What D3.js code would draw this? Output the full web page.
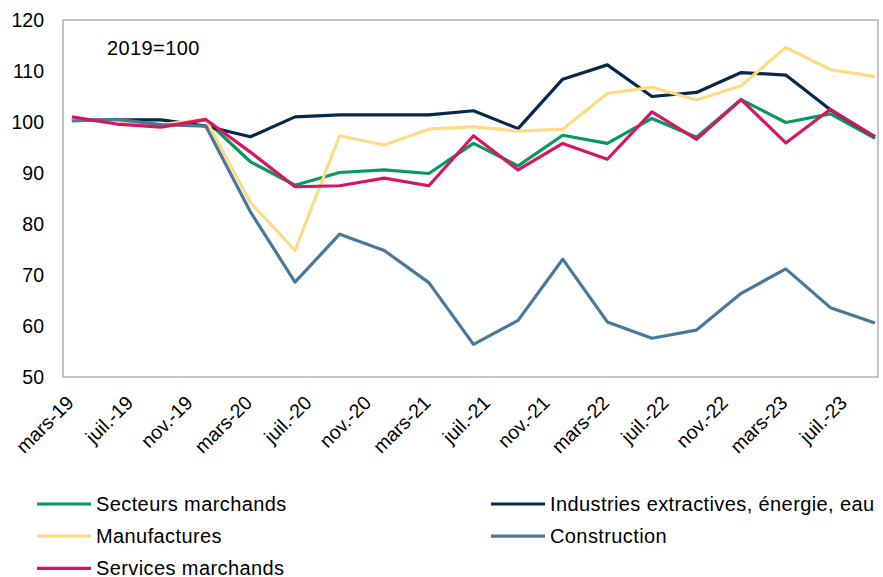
<!DOCTYPE html>
<html lang="fr">
<head>
<meta charset="UTF-8">
<title>Indices sectoriels, 2019=100</title>
<script src="https://d3js.org/d3.v7.min.js"></script>
<style>
  body { margin: 0; background: #fff; font-family: "Liberation Sans", Arial, sans-serif; }
  svg text { fill: #000; }
</style>
</head>
<body>
<svg id="chart" width="883" height="577"></svg>
<script>
// quarterly points, placed on a monthly axis (mars-19 .. sept-23)
const monthLabels = ["mars-19", "juil.-19", "nov.-19", "mars-20", "juil.-20", "nov.-20", "mars-21",
  "juil.-21", "nov.-21", "mars-22", "juil.-22", "nov.-22", "mars-23", "juil.-23"];

const secteursMarchands = [100.5, 100.1, 99.2, 100.4, 92.2, 87.6, 90.1, 90.6, 89.9, 95.8, 91.4, 97.4, 95.8, 100.7, 97.0, 104.4, 99.9, 101.6, 96.8];
const industries = [100.3, 100.4, 100.4, 99.2, 97.1, 101.0, 101.4, 101.4, 101.4, 102.2, 98.7, 108.4, 111.2, 105.0, 105.8, 109.7, 109.2, 102.4, 97.1];
const manufactures = [100.6, 100.0, 99.5, 100.5, 84.2, 74.8, 97.3, 95.5, 98.6, 99.1, 98.2, 98.6, 105.6, 106.8, 104.3, 107.1, 114.6, 110.3, 108.9];
const construction = [100.2, 100.5, 99.5, 99.2, 82.4, 68.6, 78.0, 74.8, 68.5, 56.4, 61.1, 73.1, 60.8, 57.6, 59.2, 66.4, 71.2, 63.6, 60.6];
const servicesMarchands = [101.0, 99.6, 99.0, 100.5, 94.1, 87.3, 87.5, 89.0, 87.5, 97.3, 90.6, 95.8, 92.7, 102.0, 96.6, 104.4, 95.9, 102.5, 97.1];

const yTicks = [50, 60, 70, 80, 90, 100, 110, 120];

const series = [
  { name: "Secteurs marchands", values: secteursMarchands, color: "#079A5C" },
  { name: "Industries extractives, énergie, eau", values: industries, color: "#06284B" },
  { name: "Manufactures", values: manufactures, color: "#FFDA84" },
  { name: "Construction", values: construction, color: "#4A789B" },
  { name: "Services marchands", values: servicesMarchands, color: "#D71663" }
];

const svg = d3.select("#chart");
const plot = { left: 63, right: 878, top: 20, bottom: 377 };

// month index: 0 = mars-19, quarter i sits at month 3*i
const x = d3.scaleLinear().domain([-0.6, 54.2]).range([plot.left, plot.right]);
const y = d3.scaleLinear().domain([50, 120]).range([plot.bottom, plot.top]);

// frame
svg.append("rect")
  .attr("x", plot.left).attr("y", plot.top)
  .attr("width", plot.right - plot.left).attr("height", plot.bottom - plot.top)
  .attr("fill", "none").attr("stroke", "#A6A6A6").attr("stroke-width", 1.3);

// y axis
const yAxis = d3.axisLeft(y).tickValues(yTicks).tickSize(0).tickPadding(19);
svg.append("g").attr("transform", `translate(${plot.left},0)`).call(yAxis)
  .call(g => g.select(".domain").remove())
  .selectAll("text")
  .attr("font-family", "'Liberation Sans', Arial, sans-serif")
  .attr("font-size", 19.5).attr("fill", "#000");

// x labels, rotated
svg.append("g").selectAll("text")
  .data(monthLabels)
  .join("text")
  .attr("transform", (d, i) => `translate(${x(i * 4) + 3},${plot.bottom + 27}) rotate(-45)`)
  .attr("text-anchor", "end")
  .attr("font-size", 19.5)
  .text(d => d);

// lines
const line = d3.line().x((d, i) => x(i * 3)).y(d => y(d));
svg.append("g").selectAll("path")
  .data(series)
  .join("path")
  .attr("d", d => line(d.values))
  .attr("fill", "none")
  .attr("stroke", d => d.color)
  .attr("stroke-width", 3.2)
  .attr("stroke-linejoin", "round");

svg.append("text").attr("x", 107).attr("y", 55)
  .attr("font-size", 20).attr("letter-spacing", 0.4).text("2019=100");

// legend, two columns filled row by row
const legend = svg.append("g").selectAll("g")
  .data(series)
  .join("g")
  .attr("transform", (d, i) => `translate(${i % 2 === 0 ? 37 : 491},${504 + Math.floor(i / 2) * 32.2})`);
legend.append("line").attr("x1", 0).attr("x2", 54)
  .attr("stroke", d => d.color).attr("stroke-width", 3.2);
legend.append("text").attr("x", 59).attr("dy", "0.35em")
  .attr("font-size", 20).attr("letter-spacing", 0.4).text(d => d.name);
</script>
</body>
</html>
